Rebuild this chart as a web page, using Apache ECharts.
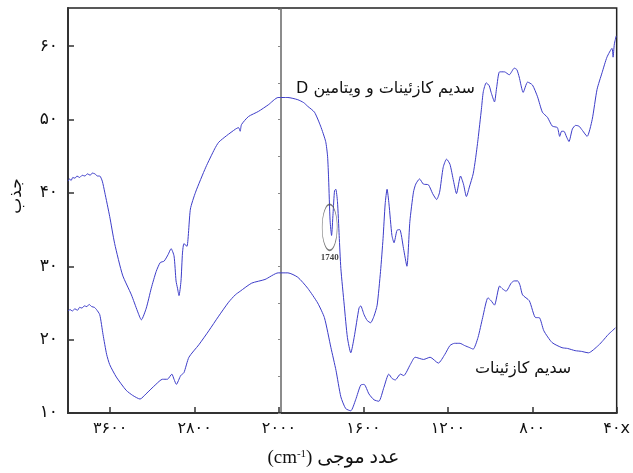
<!DOCTYPE html>
<html dir="ltr">
<head>
<meta charset="utf-8">
<script src="https://cdn.jsdelivr.net/npm/echarts@6/dist/echarts.min.js"></script>
<style>
  html, body { margin: 0; padding: 0; background: #fff; }
  #chart { width: 633px; height: 473px; }
</style>
</head>
<body>
<div id="chart"></div>
<script>
// wavenumber (cm-1) and absorbance
const vitDWn = [4000, 3985, 3970, 3955, 3934, 3915, 3890, 3865, 3840, 3815, 3790, 3770, 3746, 3720, 3699, 3675, 3652, 3605, 3558, 3483, 3399, 3342, 3305,
  3258, 3211, 3164, 3126, 3089, 3051, 3023, 2995, 2976, 2962, 2948, 2929, 2915, 2901, 2873, 2840, 2791, 2694, 2610, 2572, 2497, 2412,
  2384, 2368, 2356, 2290, 2196, 2102, 2009, 1981, 1958, 1911, 1883, 1864, 1832, 1803, 1779, 1770, 1765, 1758, 1751, 1744, 1737, 1731,
  1723, 1715, 1707, 1691, 1676, 1660, 1644, 1621, 1613, 1597, 1582, 1566, 1550, 1535, 1519, 1507, 1497, 1488, 1479, 1465, 1455, 1441,
  1428, 1410, 1394, 1380, 1363, 1352, 1334, 1316, 1292, 1272, 1253, 1239, 1222, 1206, 1190, 1173, 1159, 1140, 1126, 1112, 1098, 1080,
  1069, 1057, 1041, 1032, 1018, 1004, 995, 979, 969, 955, 932, 909, 885, 873, 862, 843, 822, 799, 775, 752, 728, 705, 681, 670, 661,
  650, 637, 626, 610, 595, 579, 562, 540, 516, 493, 469, 446, 422, 417, 411, 402];
const vitDAbs = [41.6, 41.9, 41.7, 42.1, 42.0, 42.3, 42.1, 42.4, 42.3, 42.6, 42.4, 42.7, 42.6, 42.3, 42.3, 41.6, 40.1, 36.8, 33.1, 28.8, 26.1, 23.9, 22.7,
  24.3, 27.0, 29.3, 30.5, 30.7, 31.6, 32.4, 31.4, 28.0, 27.0, 26.0, 28.0, 31.8, 33.1, 32.7, 37.8, 40.1, 43.5, 46.0, 46.9, 47.8, 48.7,
  48.9, 48.4, 49.3, 50.4, 51.1, 52.0, 53.0, 53.0, 53.0, 52.7, 52.3, 51.8, 51.0, 49.1, 47.0, 45.0, 41.9, 36.2, 34.2, 37.2, 40.3, 40.5,
  38.8, 34.2, 29.7, 24.7, 20.3, 18.2, 20.3, 24.3, 24.6, 23.4, 22.6, 22.3, 23.2, 24.7, 29.3, 33.8, 38.5, 40.5, 38.5, 34.2, 33.2, 34.9,
  35.0, 32.4, 30.0, 36.1, 40.1, 41.2, 41.9, 41.2, 41.1, 39.9, 39.1, 40.1, 43.5, 44.6, 43.9, 41.6, 39.9, 42.3, 41.2, 39.5, 40.8, 42.6,
  44.6, 47.3, 51.4, 53.8, 55.0, 54.6, 53.7, 52.4, 54.3, 56.5, 56.5, 56.1, 57.0, 56.8, 55.8, 53.7, 55.1, 54.7, 53.1, 51.0, 50.3, 49.1, 48.9, 47.7, 48.4,
  48.4, 47.6, 47.0, 48.7, 49.2, 49.1, 48.5, 47.7, 50.0, 54.1, 56.4, 58.5, 59.7, 58.5, 60.3, 61.4];

const caseinWn = [4000, 3980, 3960, 3934, 3910, 3890, 3868, 3845, 3821, 3800, 3775, 3750, 3730, 3699, 3668, 3634, 3605, 3542, 3449, 3387, 3317,
  3261, 3167, 3105, 3058, 3016, 2995, 2973, 2932, 2901, 2854, 2760, 2666, 2572, 2478, 2415, 2368, 2259, 2133, 2008, 1958, 1911, 1864,
  1817, 1785, 1754, 1730, 1707, 1684, 1660, 1637, 1613, 1597, 1574, 1550, 1527, 1503, 1480, 1464, 1449, 1425, 1409, 1378, 1355, 1315,
  1284, 1245, 1214, 1190, 1168, 1143, 1121, 1096, 1080, 1057, 1035, 1010, 995, 979, 955, 940, 924, 900, 886, 869, 858, 846, 814, 784,
  767, 745, 706, 659, 633, 597, 567, 534, 487, 464, 440, 421, 406];
const caseinAbs = [23.9, 24.1, 23.9, 24.2, 24.0, 24.4, 24.3, 24.6, 24.5, 24.8, 24.5, 24.4, 24.1, 23.4, 20.7, 18.0, 16.6, 14.9, 13.1, 12.4, 11.9,
  12.6, 13.9, 14.6, 14.6, 15.3, 14.6, 13.9, 15.1, 15.5, 17.6, 19.3, 21.2, 23.2, 25.1, 26.1, 26.6, 27.7, 28.2, 29.1, 29.1, 28.5, 27.0,
  25.0, 23.0, 18.9, 15.8, 12.2, 10.6, 10.3, 11.8, 13.8, 13.9, 12.6, 11.8, 11.6, 13.5, 15.3, 14.7, 14.5, 15.3, 15.1, 16.6, 17.6, 17.3,
  17.6, 16.8, 18.0, 19.2, 19.5, 19.5, 19.2, 18.9, 18.7, 20.3, 23.0, 25.7, 25.3, 24.7, 27.3, 26.9, 26.6, 27.7, 28.0, 28.0, 27.4, 26.1, 25.3, 23.0,
  23.0, 21.2, 19.6, 18.9, 18.8, 18.5, 18.4, 18.2, 19.2, 19.9, 20.7, 21.2, 21.6];

const xTickWn = [3600, 2800, 2000, 1600, 1200, 800, 400];
const xTickLabels = ['۳۶۰۰', '۲۸۰۰', '۲۰۰۰', '۱۶۰۰', '۱۲۰۰', '۸۰۰', '۴۰x'];
const yTicks = [10, 20, 30, 40, 50, 60];
const yTickLabels = ['۱۰', '۲۰', '۳۰', '۴۰', '۵۰', '۶۰'];
const splitTicks = [10, 15, 20, 25, 30, 35, 40, 45, 50, 55, 60, 65];

// the instrument halves the scale below 2000 cm-1
function toU(w) { return w >= 2000 ? 4000 - w : 2000 + (2000 - w) * 2; }

const xLabelOf = {};
xTickWn.forEach((w, i) => { xLabelOf[toU(w)] = xTickLabels[i]; });
const yLabelOf = {};
yTicks.forEach((v, i) => { yLabelOf[v] = yTickLabels[i]; });

const zip = (ws, as) => ws.map((w, i) => [toU(w), as[i]]);

const chart = echarts.init(document.getElementById('chart'));
const lineColor = '#3c3cc8';
const digitFont = 'DejaVu Sans';

const option = {
  animation: false,
  grid: { left: 68, right: 11.5, top: 8, bottom: 57, show: true, borderColor: '#222', borderWidth: 1.5 },
  xAxis: {
    type: 'value', min: 0, max: 5200,
    splitLine: { show: false },
    axisLine: { lineStyle: { color: '#333', width: 2 } },
    axisTick: { inside: true, length: 6, customValues: xTickWn.map(toU), lineStyle: { color: '#333', width: 1.5 } },
    axisLabel: {
      customValues: xTickWn.map(toU), margin: 8, color: '#111', fontSize: 16, fontFamily: digitFont,
      formatter: v => xLabelOf[v] || ''
    },
    name: '{a|(cm}{s|-1}{a|) عدد موجی}',
    nameLocation: 'middle', nameGap: 36,
    nameTextStyle: {
      padding: [0, 18, 0, 0],
      rich: {
        a: { fontSize: 19, fontFamily: 'Liberation Serif, DejaVu Sans', color: '#111' },
        s: { fontSize: 11, fontFamily: 'Liberation Serif', color: '#111', verticalAlign: 'top', padding: [0, 0, 8, 0] }
      }
    }
  },
  yAxis: [{
    type: 'value', min: 10, max: 65.2,
    splitLine: { show: false },
    axisLine: { show: true, lineStyle: { color: '#333', width: 2 } },
    axisTick: { show: true, inside: true, length: 6, customValues: yTicks, lineStyle: { color: '#333', width: 1.5 } },
    axisLabel: {
      customValues: yTicks, margin: 10, color: '#111', fontSize: 17, fontFamily: digitFont,
      formatter: v => yLabelOf[v] || ''
    }
  }, {
    type: 'value', min: 10, max: 65.2, position: 'left', offset: -213,
    splitLine: { show: false },
    axisLine: { show: true, lineStyle: { color: '#666', width: 1.5 } },
    axisTick: { show: true, inside: false, length: 3, customValues: splitTicks, lineStyle: { color: '#888', width: 1 } },
    axisLabel: { show: false }
  }],
  series: [{
    type: 'line', data: zip(vitDWn, vitDAbs), showSymbol: false, smooth: 0.2,
    lineStyle: { color: lineColor, width: 1 }
  }, {
    type: 'line', data: zip(caseinWn, caseinAbs), showSymbol: false, smooth: 0.2,
    lineStyle: { color: lineColor, width: 1 }
  }, {
    type: 'scatter', data: [[toU(1760), 35.3]], symbol: 'circle', symbolSize: [15, 46], z: 5,
    itemStyle: { color: 'transparent', borderColor: '#555', borderWidth: 1 },
    label: {
      show: true, position: 'bottom', distance: 2, formatter: '1740',
      fontSize: 9, fontWeight: 'bold', fontFamily: 'Liberation Serif', color: '#111'
    }
  }],
  graphic: [{
    type: 'text', left: 296, top: 81,
    style: { text: 'D سدیم کازئینات و ویتامین', font: '16px DejaVu Sans', fill: '#111' }
  }, {
    type: 'text', left: 475, top: 361,
    style: { text: 'سدیم کازئینات', font: '16px DejaVu Sans', fill: '#111' }
  }, {
    type: 'text', x: 17, y: 196, rotation: Math.PI / 2,
    style: { text: 'جذب', font: '17px DejaVu Sans', fill: '#111', align: 'center', verticalAlign: 'middle' }
  }]
};
chart.setOption(option);
</script>
</body>
</html>
